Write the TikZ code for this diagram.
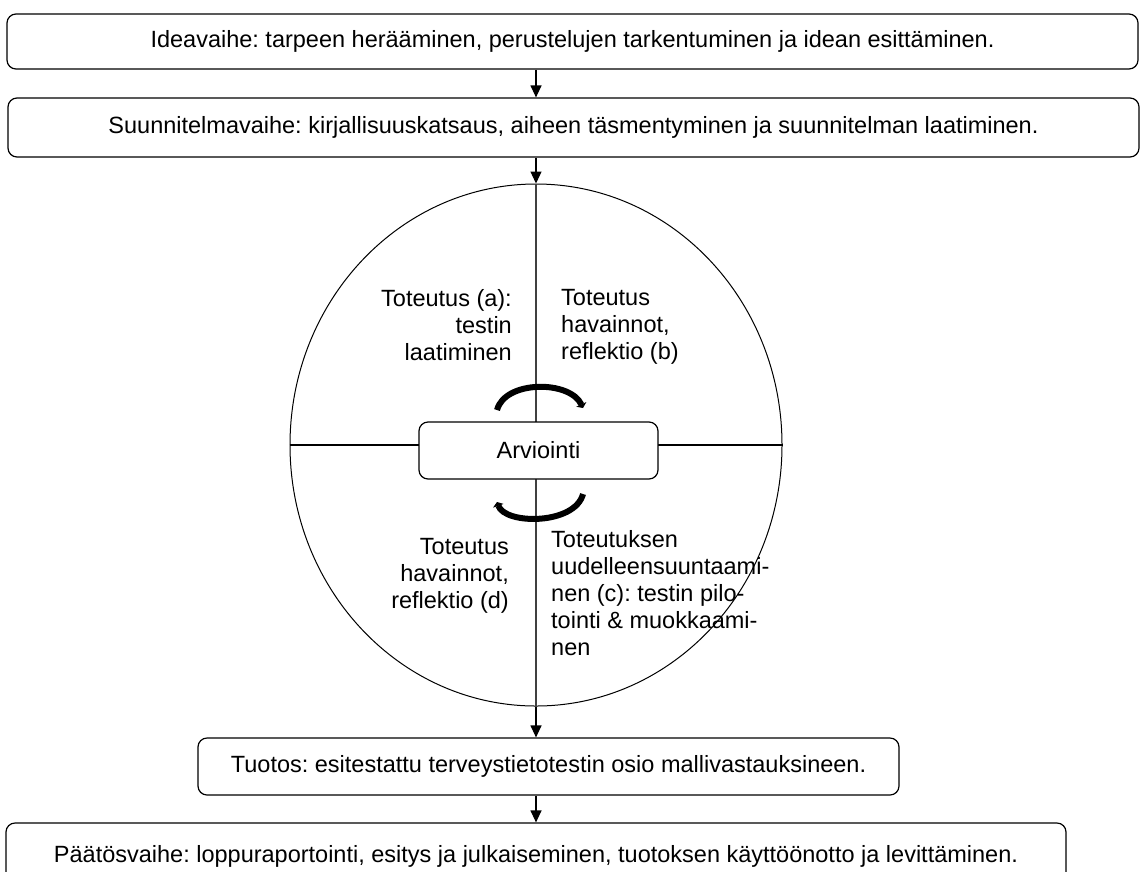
\documentclass[tikz,border=0pt]{standalone}
\usepackage{fontspec}
\setmainfont{Liberation Sans}
\usetikzlibrary{arrows.meta}
\usetikzlibrary{positioning}
\usetikzlibrary{shapes.geometric}

\tikzset{
  phasebox/.style = {draw, line width=1.2pt, rounded corners=9pt, fill=white, inner sep=0pt},
  flowarrow/.style = {line width=1.2pt, -{Triangle[length=12pt, width=11pt]}},
  turnarrow/.style = {line width=6pt, -{Triangle[length=4pt, width=11pt]}},
  quarter/.style = {inner sep=0pt}
}

\begin{document}
\frenchspacing
\begin{tikzpicture}[x=1pt, y=-1pt, font=\fontsize{23.5}{27}\selectfont]
      \useasboundingbox (0, 0) rectangle (1140, 871);

      \node[phasebox, minimum width=1131, minimum height=55] (idea) at (572.5, 41.5)
        {Ideavaihe: tarpeen herääminen, perustelujen tarkentuminen ja idean esittäminen.};
      \node[phasebox, minimum width=1131, minimum height=59] (plan) at (573.5, 127.5)
        {Suunnitelmavaihe: kirjallisuuskatsaus, aiheen täsmentyminen ja suunnitelman laatiminen.};
      \node[draw, ellipse, line width=1pt, minimum width=492, minimum height=522, inner sep=0pt] (cycle) at (536, 445) {};

      \draw[flowarrow] (idea.south -| cycle.north) -- (plan.north -| cycle.north);
      \draw[flowarrow] (plan.south -| cycle.north) -- (cycle.north);
      \draw[line width=1.2pt, black!75] (cycle.north) -- (cycle.south);
      \draw[line width=1.2pt] (cycle.west) -- (cycle.east);

      \node[phasebox, minimum width=239, minimum height=57] (eval) at (538.5, 450.5) {Arviointi};

      % kierto arvioinnin ympari
      \draw[turnarrow] (497, 410) .. controls (505, 380) and (570, 380) .. (583, 408);
      \draw[turnarrow] (583, 494) .. controls (575, 525) and (505, 525) .. (497, 502);

      \node[quarter, align=right, anchor=north east] (qa) at (512, 289) {Toteutus (a):\\testin\\laatiminen};
      \node[quarter, align=left, anchor=north west] (qb) at (561, 289) {Toteutus\\havainnot,\\reflektio (b)};
      \node[quarter, align=left, anchor=north west] (qc) at (551, 530) {Toteutuksen\\uudelleensuuntaami-\\nen (c): testin pilo-\\tointi \& muokkaami-\\nen};
      \node[quarter, align=right, anchor=north east] (qd) at (509, 538) {Toteutus\\havainnot,\\reflektio (d)};

      \node[phasebox, minimum width=701, minimum height=57] (output) at (548.5, 766.5)
        {Tuotos: esitestattu terveystietotestin osio mallivastauksineen.};
      \node[phasebox, minimum width=1060, minimum height=66] (decision) at (536, 856)
        {Päätösvaihe: loppuraportointi, esitys ja julkaiseminen, tuotoksen käyttöönotto ja levittäminen.};

      \draw[flowarrow] (cycle.south) -- (output.north -| cycle.south);
      \draw[flowarrow] (output.south -| cycle.south) -- (decision.north -| cycle.south);
    \end{tikzpicture}
\end{document}
